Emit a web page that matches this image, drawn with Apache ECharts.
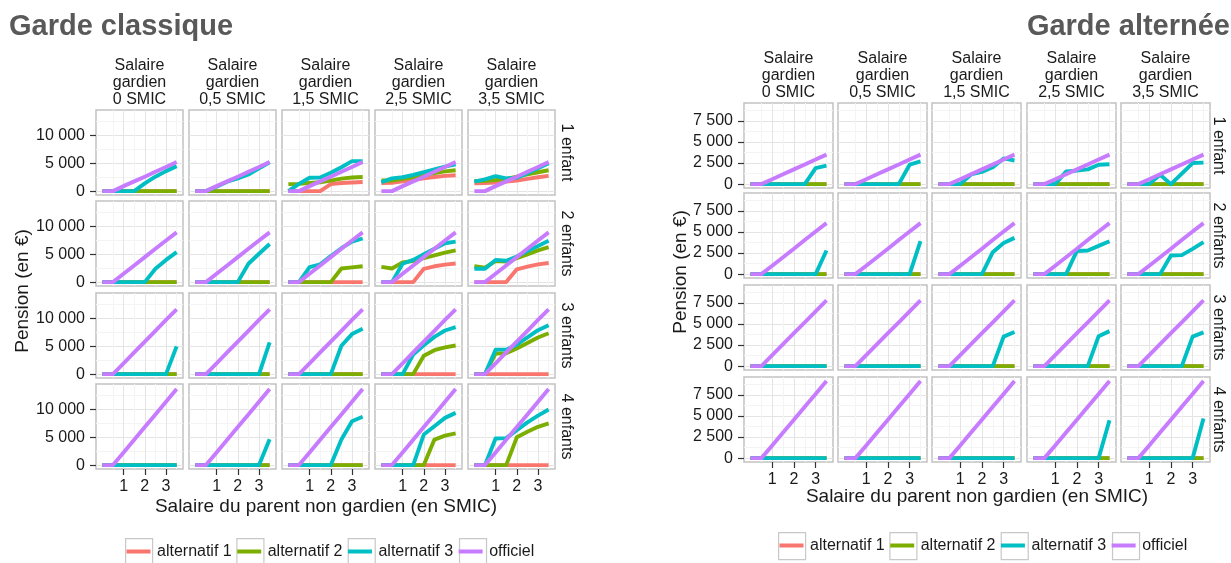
<!DOCTYPE html>
<html>
<head>
<meta charset="utf-8">
<script src="https://cdn.jsdelivr.net/npm/echarts@6/dist/echarts.min.js"></script>
<style>
  html, body { margin: 0; padding: 0; background: #fff; }
  #chart { width: 1231px; height: 563px; }
</style>
</head>
<body>
<div id="chart"></div>
<script>
// abscisse : salaire du parent non gardien (en SMIC)
const xs = [0, 0.5, 1, 1.5, 2, 2.5, 3, 3.5];
const xTicks = [1, 2, 3];
const classiqueTicks = [0, 5000, 10000];
const alterneeTicks = [0, 2500, 5000, 7500];
const seriesNames = ['alternatif 1', 'alternatif 2', 'alternatif 3', 'officiel'];
const seriesColors = ['#F8766D', '#7CAE00', '#00BFC4', '#C77CFF'];
const gardienLabels = ['Salaire\ngardien\n0 SMIC', 'Salaire\ngardien\n0,5 SMIC', 'Salaire\ngardien\n1,5 SMIC', 'Salaire\ngardien\n2,5 SMIC', 'Salaire\ngardien\n3,5 SMIC'];
const enfantLabels = ['1 enfant', '2 enfants', '3 enfants', '4 enfants'];

const Z = [0, 0, 0, 0, 0, 0, 0, 0];

// garde classique : [enfants][salaire gardien]
const classiqueAlt1 = [
  [Z, Z, [0, 0, 0, 0, 1250, 1450, 1550, 1650], [1450, 1500, 1750, 2000, 2300, 2550, 2750, 2850], [1400, 1450, 1550, 1700, 1900, 2200, 2500, 2750]],
  [Z, Z, Z, [0, 0, 0, 0, 2400, 2850, 3150, 3350], [0, 0, 0, 0, 2300, 2800, 3200, 3450]],
  [Z, Z, Z, Z, Z],
  [Z, Z, Z, Z, Z]
];
const classiqueAlt2 = [
  [Z, Z, [1250, 1300, 1450, 1600, 1900, 2250, 2450, 2550], [1900, 1900, 2200, 2500, 2900, 3250, 3550, 3750], [1850, 1850, 2000, 2200, 2600, 3000, 3400, 3750]],
  [Z, Z, [0, 0, 0, 0, 0, 2450, 2650, 2850], [2750, 2450, 3550, 3800, 4300, 4800, 5300, 5700], [2850, 2600, 3800, 3700, 4300, 5000, 5700, 6300]],
  [Z, Z, Z, [0, 0, 0, 0, 3300, 4300, 4800, 5150], [0, 0, 3700, 3750, 4600, 5600, 6600, 7350]],
  [Z, Z, Z, [0, 0, 0, 0, 0, 4600, 5300, 5700], [0, 0, 0, 0, 5000, 6000, 6900, 7500]]
];
const classiqueAlt3 = [
  [[0, 0, 0, 0, 1400, 2600, 3600, 4500], [0, 0, 800, 1700, 2300, 3000, 4100, 5200], [0, 1300, 2400, 2450, 3300, 4300, 5400, 5400], [1600, 2300, 2500, 2900, 3400, 3900, 4400, 4800], [1700, 2100, 2700, 2300, 2400, 3200, 4100, 5000]],
  [[0, 0, 0, 0, 0, 2400, 4000, 5400], [0, 0, 0, 0, 0, 3300, 5100, 6850], [0, 0, 2700, 3200, 4700, 6100, 7300, 7850], [0, 0, 3300, 4000, 5000, 6000, 7000, 7300], [2400, 2400, 4000, 3850, 4600, 5600, 6500, 7450]],
  [[0, 0, 0, 0, 0, 0, 0, 5000], [0, 0, 0, 0, 0, 0, 0, 5700], [0, 0, 0, 0, 0, 5100, 7200, 8150], [0, 0, 0, 3500, 5200, 6700, 7850, 8450], [0, 0, 4400, 4400, 5300, 6600, 7900, 8800]],
  [Z, [0, 0, 0, 0, 0, 0, 0, 4650], [0, 0, 0, 0, 0, 4600, 7900, 8700], [0, 0, 0, 0, 5500, 7000, 8500, 9400], [0, 0, 4800, 4850, 6300, 7700, 8900, 10000]]
];
// officiel : identique pour chaque salaire du gardien
const classiqueOfficiel = [
  [0, 0, 900, 1750, 2600, 3500, 4350, 5230],
  [0, 0, 1500, 3000, 4500, 6000, 7500, 8950],
  [0, 0, 1950, 3900, 5850, 7800, 9750, 11650],
  [0, 0, 2280, 4560, 6840, 9120, 11400, 13700]
];

// garde alternée
const alterneeAlt1 = [
  [Z, Z, Z, Z, Z],
  [Z, Z, Z, Z, Z],
  [Z, Z, Z, Z, Z],
  [Z, Z, Z, Z, Z]
];
const alterneeAlt2 = [
  [Z, Z, Z, Z, Z],
  [Z, Z, Z, Z, Z],
  [Z, Z, Z, Z, Z],
  [Z, Z, Z, Z, Z]
];
const alterneeAlt3 = [
  [[0, 0, 0, 0, 0, 0, 1900, 2200], [0, 0, 0, 0, 0, 0, 2300, 2700], [0, 0, 0, 1150, 1450, 2000, 3050, 2800], [0, 0, 0, 1500, 1600, 1750, 2300, 2350], [0, 0, 0, 1100, 0, 1250, 2500, 2550]],
  [[0, 0, 0, 0, 0, 0, 0, 2800], [0, 0, 0, 0, 0, 0, 0, 3900], [0, 0, 0, 0, 0, 2600, 3700, 4300], [0, 0, 0, 0, 2750, 2800, 3350, 3900], [0, 0, 0, 0, 2200, 2250, 3000, 3800]],
  [Z, Z, [0, 0, 0, 0, 0, 0, 3500, 4050], [0, 0, 0, 0, 0, 0, 3550, 4150], [0, 0, 0, 0, 0, 0, 3500, 4000]],
  [Z, Z, Z, [0, 0, 0, 0, 0, 0, 0, 4500], [0, 0, 0, 0, 0, 0, 0, 4700]]
];
const alterneeOfficiel = [
  [0, 0, 580, 1170, 1750, 2330, 2920, 3500],
  [0, 0, 1000, 2000, 3000, 4050, 5050, 6050],
  [0, 0, 1300, 2600, 3900, 5200, 6500, 7800],
  [0, 0, 1500, 3050, 4550, 6100, 7600, 9150]
];

const FONT = '"Liberation Sans", Arial, sans-serif';
const TXT = '#1a1a1a';

function thousands(v) {
  return String(v).replace(/\B(?=(\d{3})+(?!\d))/g, ' ');
}

const grids = [];
const xAxes = [];
const yAxes = [];
const series = [];

function buildChart(layout, yRange, yTicks, yStep, alt1, alt2, alt3, officiel) {
  for (let r = 0; r < 4; r++) {
    for (let c = 0; c < 5; c++) {
      const idx = grids.length;
      grids.push({
        left: layout.lefts[c], top: layout.tops[r], width: layout.width, height: layout.height,
        show: true, backgroundColor: '#fff', borderColor: '#c2c2c2', borderWidth: 1.5,
        containLabel: false, outerBoundsMode: 'none'
      });
      xAxes.push({
        gridIndex: idx, type: 'value', min: -0.3, max: 3.8, minInterval: 1, maxInterval: 1,
        axisLine: { show: false, onZero: false },
        axisTick: { show: r === 3, length: 6, customValues: xTicks, lineStyle: { color: '#333', width: 1.2 } },
        axisLabel: { show: r === 3, customValues: xTicks, fontSize: 16, color: TXT, margin: 10, fontFamily: FONT },
        splitLine: { show: true, lineStyle: { color: '#e4e4e4', width: 1 } },
        minorTick: { show: false, splitNumber: 2 },
        minorSplitLine: { show: true, lineStyle: { color: '#f4f4f4', width: 1 } }
      });
      yAxes.push({
        gridIndex: idx, type: 'value', min: yRange[0], max: yRange[1], minInterval: yStep, maxInterval: yStep,
        axisLine: { show: false, onZero: false },
        axisTick: { show: c === 0, length: 6, customValues: yTicks, lineStyle: { color: '#333', width: 1.2 } },
        axisLabel: { show: c === 0, customValues: yTicks, fontSize: 16, color: TXT, margin: 11, fontFamily: FONT, formatter: thousands },
        splitLine: { show: true, lineStyle: { color: '#e4e4e4', width: 1 } },
        minorTick: { show: false, splitNumber: 2 },
        minorSplitLine: { show: true, lineStyle: { color: '#f4f4f4', width: 1 } }
      });
      const sets = [alt1[r][c], alt2[r][c], alt3[r][c], officiel[r]];
      sets.forEach((vals, k) => {
        series.push({
          name: seriesNames[k], type: 'line', xAxisIndex: idx, yAxisIndex: idx,
          data: xs.map((x, i) => [x, vals[i]]),
          symbol: 'none', silent: true, animation: false,
          lineStyle: { color: seriesColors[k], width: 3.9, join: 'round', cap: 'butt' },
          itemStyle: { color: seriesColors[k] }
        });
      });
    }
  }
}

const layoutClassique = { lefts: [96, 189, 282, 375, 468], tops: [110, 201, 293, 384], width: 87, height: 85 };
const layoutAlternee = { lefts: [744, 838, 932, 1027, 1121], tops: [103, 193, 285, 377], width: 89, height: 85 };

buildChart(layoutClassique, [-700, 14600], classiqueTicks, 5000, classiqueAlt1, classiqueAlt2, classiqueAlt3, classiqueOfficiel);
buildChart(layoutAlternee, [-460, 9620], alterneeTicks, 2500, alterneeAlt1, alterneeAlt2, alterneeAlt3, alterneeOfficiel);

// textes : titres, bandeaux, titres d'axes
const texts = [];
function txt(x, y, text, opts) {
  texts.push(Object.assign({
    type: 'text', x: x, y: y, silent: true,
    style: Object.assign({ text: text, fill: TXT, fontSize: 16, fontFamily: FONT, align: 'center', verticalAlign: 'middle' }, opts && opts.style)
  }, opts && opts.el));
}

function chartTexts(layout, stripY, rowStripX, yTitle, xTitle) {
  layout.lefts.forEach((l, c) => txt(l + layout.width / 2, stripY, gardienLabels[c], { style: { lineHeight: 17 } }));
  layout.tops.forEach((t, r) => txt(rowStripX, t + layout.height / 2, enfantLabels[r], { el: { rotation: -Math.PI / 2 } }));
  txt(yTitle[0], yTitle[1], 'Pension (en €)', { style: { fontSize: 19 }, el: { rotation: Math.PI / 2 } });
  txt(xTitle[0], xTitle[1], 'Salaire du parent non gardien (en SMIC)', { style: { fontSize: 19 } });
}

txt(9, 27, 'Garde classique', { style: { fontSize: 29, fontWeight: 'bold', fill: '#595959', align: 'left' } });
txt(1230, 27, 'Garde alternée', { style: { fontSize: 29, fontWeight: 'bold', fill: '#595959', align: 'right' } });
chartTexts(layoutClassique, 83, 566, [23, 291], [326, 507]);
chartTexts(layoutAlternee, 76, 1218, [681, 272], [977, 497]);

const keyPath = 'path://M0,0h0.05v0.05h-0.05z M1.5,11.5h24v4h-24z M26.95,26.95h0.05v0.05h-0.05z';
function legendPair(left, top) {
  const base = {
    left: left, top: top, orient: 'horizontal', data: seriesNames, selectedMode: false,
    itemWidth: 27, itemHeight: 27, itemGap: 4, padding: 0
  };
  return [
    Object.assign({}, base, {
      icon: 'rect',
      itemStyle: { color: '#fff', borderColor: '#c8c8c8', borderWidth: 1.2 },
      textStyle: { fontSize: 16, color: 'rgba(0,0,0,0)', fontFamily: FONT }
    }),
    Object.assign({}, base, {
      icon: keyPath,
      itemStyle: { borderWidth: 0 },
      textStyle: { fontSize: 16, color: TXT, fontFamily: FONT }
    })
  ];
}

const option = {
  backgroundColor: '#fff',
  animation: false,
  textStyle: { fontFamily: FONT },
  grid: grids,
  xAxis: xAxes,
  yAxis: yAxes,
  series: series,
  legend: legendPair(125, 538).concat(legendPair(778, 532)),
  graphic: { elements: texts }
};

const myChart = echarts.init(document.getElementById('chart'), null, { renderer: 'canvas' });
myChart.setOption(option);
</script>
</body>
</html>
